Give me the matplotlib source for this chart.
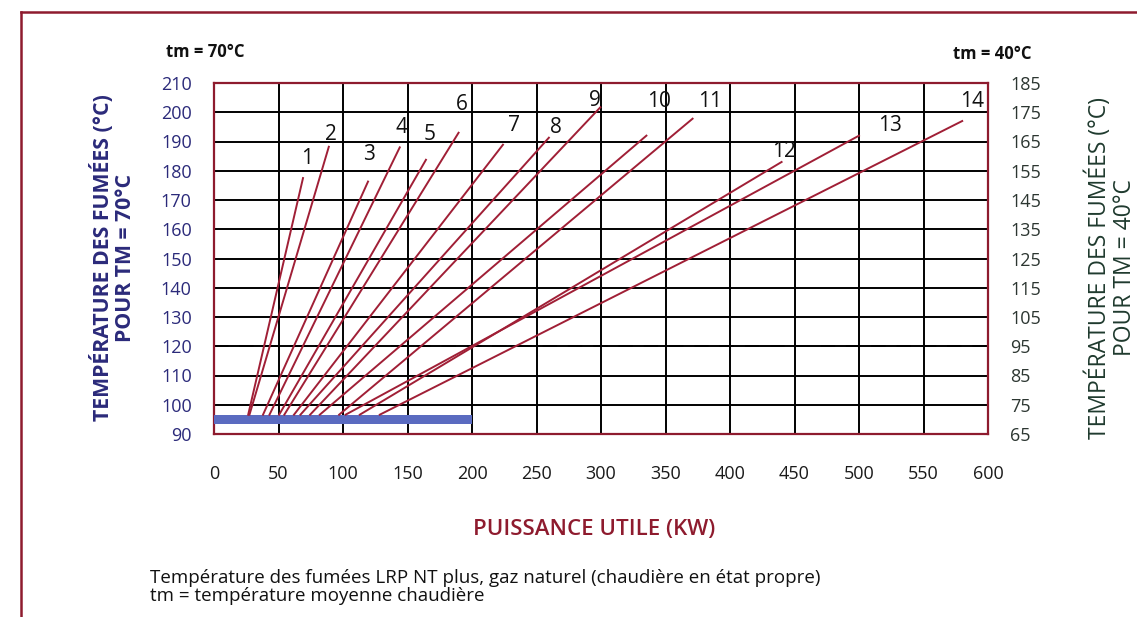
import numpy as np
import matplotlib.pyplot as plt
from matplotlib.lines import Line2D

plt.rcParams['font.family'] = ['Open Sans', 'DejaVu Sans']

# boiler curves: start (on the low-load bar) and end point of each line, kW / degC
boiler = ['1', '2', '3', '4', '5', '6', '7', '8', '9', '10', '11', '12', '13', '14']
x_start = [26.5, 27.5, 38, 43, 50.5, 54.5, 62, 67, 74.5, 82, 97, 113, 102, 128.5]
y_start = [96.6] * 14
x_end = [69, 89, 119.4, 144, 164.3, 189.6, 224, 259.6, 299.5, 335.2, 371, 440, 500, 580]
y_end = [177.5, 188.2, 176.3, 188, 183.75, 193, 188.9, 191.3, 201.7, 192, 197.8, 183, 192, 197]
# where the boiler numbers sit
lab_x = [72.4, 91, 120.2, 145.3, 167, 192.4, 232.3, 264.8, 295.6, 344.8, 384.6, 442, 524, 587.6]
lab_y = [184.3, 192.4, 185.7, 194.7, 192.4, 202.8, 195.6, 194.7, 203.9, 203.6, 203.6, 186.7, 195.6, 203.6]

# minimum load band and the 120 degC reference
band_x = [0, 200]
band_lo, band_hi = 93.4, 96.6
ref_temp = 120

x_ticks = list(range(0, 601, 50))
y_ticks_70 = list(range(90, 211, 10))
y_ticks_40 = list(range(65, 186, 10))

red = '#8e1b2e'
navy = '#2b2a7a'
green = '#1f3a2e'

fig = plt.figure(figsize=(11.37, 6.17), dpi=100)
ax = fig.add_axes([214 / 1137, 1 - 434 / 617, 774 / 1137, 351 / 617])

ax.set_xlim(0, 600)
ax.set_ylim(90, 210)
ax.set_xticks(x_ticks)
ax.set_yticks(y_ticks_70)
ax.grid(True, color='black', linewidth=1.4)
ax.set_axisbelow(True)
for s in ax.spines.values():
    s.set_color(red)
    s.set_linewidth(1.6)
ax.tick_params(length=0)
ax.tick_params(axis='y', pad=16, labelsize=13, labelcolor=navy)
ax.tick_params(axis='x', pad=22, labelsize=13, labelcolor='#1a1a1a')

ax.fill_between(band_x, band_lo, band_hi, color='#5a6bc0', zorder=3, linewidth=0)
ax.axhline(ref_temp, color='black', linewidth=1.3, dashes=(8, 6), zorder=2)

for i in range(len(boiler)):
    ax.plot([x_start[i], x_end[i]], [y_start[i], y_end[i]], color='#a01f36',
            linewidth=1.4, zorder=4)
    ax.text(lab_x[i], lab_y[i], boiler[i], fontsize=15, ha='center', va='center',
            color='#111111', zorder=5)

# same grid read at tm = 40 degC
ax2 = ax.twinx()
ax2.set_ylim(65, 185)
ax2.set_yticks(y_ticks_40)
ax2.tick_params(length=0, pad=16, labelsize=13, labelcolor='#2c3631')
for s in ax2.spines.values():
    s.set_visible(False)

fig.text(113 / 1137, 1 - 258 / 617, 'TEMPÉRATURE DES FUMÉES (°C)\nPOUR TM = 70°C',
         rotation=90, ha='center', va='center', multialignment='center',
         fontsize=15.3, fontweight='bold', color=navy, linespacing=1.1)
fig.text(1111 / 1137, 1 - 268 / 617, 'TEMPÉRATURE DES FUMÉES (°C)\nPOUR TM = 40°C',
         rotation=90, ha='center', va='center', multialignment='center',
         fontsize=16.5, color=green, linespacing=1.05)

fig.text(205 / 1137, 1 - 52 / 617, 'tm = 70°C', fontsize=12, fontweight='bold',
         ha='center', va='center', color='#111111')
fig.text(992 / 1137, 1 - 54 / 617, 'tm = 40°C', fontsize=12, fontweight='bold',
         ha='center', va='center', color='#111111')

fig.text(594 / 1137, 1 - 530 / 617, 'PUISSANCE UTILE (KW)', fontsize=16,
         fontweight='semibold', ha='center', va='center', color=red)
fig.text(150 / 1137, 1 - 587 / 617,
         'Température des fumées LRP NT plus, gaz naturel (chaudière en état propre)\n'
         'tm = température moyenne chaudière',
         fontsize=13.5, ha='left', va='center', color='#111111', linespacing=1.0)

# page frame
fx, fy = 21 / 1137, 1 - 12 / 617
fig.add_artist(Line2D([fx, fx], [0, fy], color=red, linewidth=1.8))
fig.add_artist(Line2D([fx, 1], [fy, fy], color=red, linewidth=1.8))

fig.savefig('out.png', dpi=100)
